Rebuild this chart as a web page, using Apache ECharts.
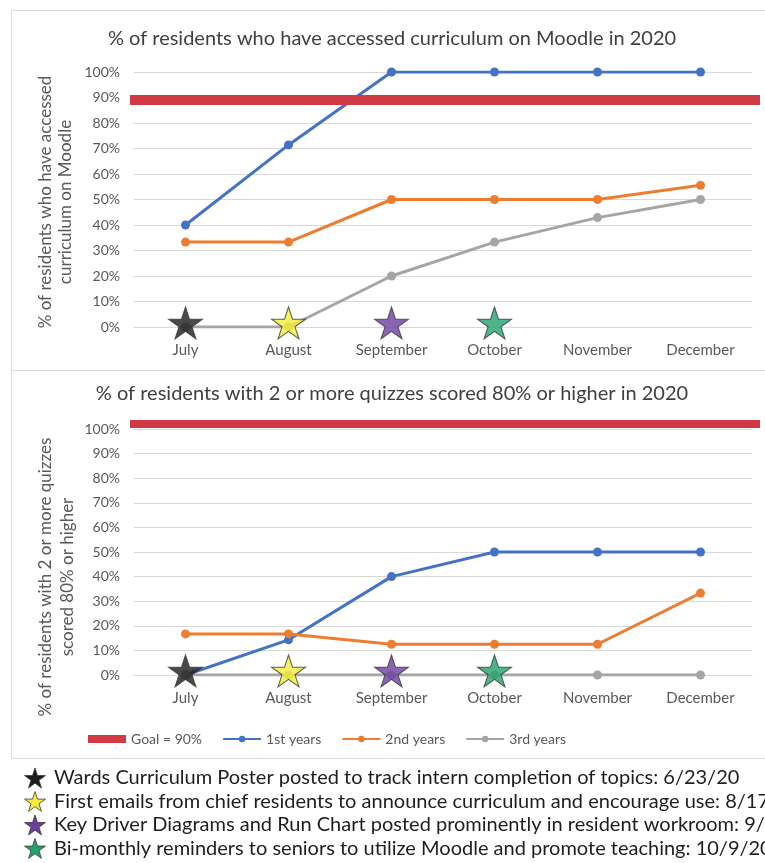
<!DOCTYPE html>
<html>
<head>
<meta charset="utf-8">
<script src="https://cdn.jsdelivr.net/npm/echarts@6/dist/echarts.min.js"></script>
<style>
  html, body { margin: 0; padding: 0; background: #ffffff; }
  #chart { width: 765px; height: 863px; }
</style>
</head>
<body>
<div id="chart"></div>
<script>
// Months on the x axis of both panels
const months = ['July', 'August', 'September', 'October', 'November', 'December'];

// Share of residents who have accessed the curriculum on Moodle
const accessed1st = [0.40, 0.714, 1.00, 1.00, 1.00, 1.00];
const accessed2nd = [0.333, 0.333, 0.50, 0.50, 0.50, 0.556];
const accessed3rd = [0.00, 0.00, 0.20, 0.333, 0.429, 0.50];

// Share of residents with 2+ quizzes scored 80% or higher
const quiz1st = [0.00, 0.143, 0.40, 0.50, 0.50, 0.50];
const quiz2nd = [0.167, 0.167, 0.125, 0.125, 0.125, 0.333];
const quiz3rd = [0.00, 0.00, 0.00, 0.00, 0.00, 0.00];

// Goal level
const goal = 0.9;

// Y axis ticks (0% .. 100%)
const yTickStep = 0.1;
const yTickMax = 1.0;

// Interventions, marked with stars on the month they started
const milestoneMonths = ['July', 'August', 'September', 'October'];
const milestoneLevel = [0, 0, 0, 0];
const milestoneNotes = [
  'Wards Curriculum Poster posted to track intern completion of topics: 6/23/20',
  'First emails from chief residents to announce curriculum and encourage use: 8/17/20',
  'Key Driver Diagrams and Run Chart posted prominently in resident workroom: 9/4/20',
  'Bi-monthly reminders to seniors to utilize Moodle and promote teaching: 10/9/20'
];

const FONT = 'Lato, "Open Sans", sans-serif';
const AXIS_TEXT = '#595959';
const GRID_LINE = '#d9d9d9';
const GOAL_RED = '#cf3a44';
const SERIES_COLORS = ['#4472c4', '#ed7d31', '#a5a5a5'];
const STAR_COLORS = ['#1b1b1b', '#f2ee3a', '#6b3fa0', '#22a36d'];

// Five-pointed star outline in a 100 x 91 box
const STAR_PTS = [[50, 0], [61.23, 34.55], [97.55, 34.55], [68.17, 55.9], [79.39, 90.45],
                  [50, 69.1], [20.61, 90.45], [31.83, 55.9], [2.45, 34.55], [38.77, 34.55]];
const STAR_D = 'M' + STAR_PTS.map(p => p[0] + ' ' + p[1]).join(' L') + ' Z';

function xAxisFor(gridIndex, visible) {
  return {
    type: 'category',
    gridIndex: gridIndex,
    data: months,
    boundaryGap: true,
    show: visible,
    axisLine: { lineStyle: { color: GRID_LINE } },
    axisTick: { show: false },
    axisLabel: { color: AXIS_TEXT, fontSize: 15, fontFamily: FONT, margin: 16 }
  };
}

function yAxisFor(gridIndex) {
  return {
    type: 'value',
    gridIndex: gridIndex,
    min: 0,
    max: yTickMax,
    interval: yTickStep,
    axisLine: { show: false },
    axisTick: { show: false },
    splitLine: { lineStyle: { color: GRID_LINE, width: 1 } },
    axisLabel: {
      color: AXIS_TEXT, fontSize: 14, fontFamily: FONT, margin: 14,
      formatter: v => Math.round(v * 100) + '%'
    }
  };
}

// Hidden secondary scale carrying the goal bar
function goalAxisFor(gridIndex, max) {
  return { type: 'value', gridIndex: gridIndex, show: false, min: 0, max: max, splitLine: { show: false } };
}

function trendSeries(name, data, color, axisIndex) {
  return {
    name: name,
    type: 'line',
    xAxisIndex: axisIndex,
    yAxisIndex: axisIndex,
    data: data,
    symbol: 'circle',
    symbolSize: 9,
    color: color,
    lineStyle: { width: 3, color: color },
    itemStyle: { color: color },
    z: 2
  };
}

function goalSeries(axisIndex, width) {
  return {
    name: 'Goal = 90%',
    type: 'line',
    xAxisIndex: axisIndex,
    yAxisIndex: axisIndex,
    data: [],
    color: GOAL_RED,
    z: 3,
    markLine: {
      silent: true,
      symbol: ['none', 'none'],
      label: { show: false },
      lineStyle: { color: GOAL_RED, width: width, type: 'solid', opacity: 1 },
      emphasis: { disabled: true },
      data: [{ yAxis: goal }]
    }
  };
}

function starSeries(axisIndex) {
  return {
    type: 'scatter',
    xAxisIndex: axisIndex,
    yAxisIndex: axisIndex,
    symbol: 'path://' + STAR_D,
    symbolSize: [34, 32],
    symbolOffset: [0, -4],
    z: 5,
    silent: true,
    data: milestoneMonths.map((m, i) => ({
      value: [m, milestoneLevel[i]],
      itemStyle: { color: STAR_COLORS[i], borderColor: '#383838', borderWidth: 1 }
    }))
  };
}

// Intervention key under the panels: star icon + description
const noteRows = milestoneNotes.map((t, i) => {
  const cy = 778 + i * 23.5;
  const sx = 22 / 100, sy = 20 / 91;
  return [
    {
      type: 'polygon',
      silent: true,
      shape: { points: STAR_PTS.map(p => [24 + p[0] * sx, cy - 10 + p[1] * sy]) },
      style: { fill: STAR_COLORS[i], stroke: '#383838', lineWidth: 0.8 }
    },
    {
      type: 'text',
      silent: true,
      x: 54,
      y: cy,
      style: { text: t, fill: '#1e1e1e', font: '20px ' + FONT, align: 'left', verticalAlign: 'middle' }
    }
  ];
}).flat();

const option = {
  animation: false,
  backgroundColor: '#ffffff',
  grid: [
    // plot areas
    { left: 134, right: 13, top: 72, height: 255 },
    { left: 134, right: 13, top: 429, height: 246 },
    // overlay areas for the goal bars (secondary scales)
    { left: 130, right: 5, top: 72, height: 255 },
    { left: 130, right: 5, top: 419, height: 256 }
  ],
  xAxis: [xAxisFor(0, true), xAxisFor(1, true), xAxisFor(2, false), xAxisFor(3, false)],
  yAxis: [yAxisFor(0), yAxisFor(1), goalAxisFor(2, 1.011), goalAxisFor(3, 0.918)],
  legend: {
    left: 83,
    top: 727,
    itemWidth: 38,
    itemHeight: 8,
    itemGap: 20,
    textStyle: { color: AXIS_TEXT, fontSize: 14, fontFamily: FONT },
    data: [
      { name: 'Goal = 90%', icon: 'rect' },
      '1st years', '2nd years', '3rd years'
    ]
  },
  series: [
    trendSeries('1st years', accessed1st, SERIES_COLORS[0], 0),
    trendSeries('2nd years', accessed2nd, SERIES_COLORS[1], 0),
    trendSeries('3rd years', accessed3rd, SERIES_COLORS[2], 0),
    goalSeries(2, 10),
    starSeries(0),
    trendSeries('1st years', quiz1st, SERIES_COLORS[0], 1),
    trendSeries('2nd years', quiz2nd, SERIES_COLORS[1], 1),
    trendSeries('3rd years', quiz3rd, SERIES_COLORS[2], 1),
    goalSeries(3, 8),
    starSeries(1)
  ],
  graphic: [
    { type: 'rect', silent: true, shape: { x: 11.5, y: 10.5, width: 800, height: 748 },
      style: { fill: 'none', stroke: '#dcdcdc', lineWidth: 1 } },
    { type: 'line', silent: true, shape: { x1: 11, y1: 370.5, x2: 765, y2: 370.5 },
      style: { stroke: '#dcdcdc', lineWidth: 1 } },
    { type: 'text', silent: true, x: 392, y: 39,
      style: { text: '% of residents who have accessed curriculum on Moodle in 2020',
               fill: '#404040', font: '20px ' + FONT, align: 'center', verticalAlign: 'middle' } },
    { type: 'text', silent: true, x: 392, y: 394,
      style: { text: '% of residents with 2 or more quizzes scored 80% or higher in 2020',
               fill: '#404040', font: '20px ' + FONT, align: 'center', verticalAlign: 'middle' } },
    { type: 'text', silent: true, x: 56, y: 202, rotation: Math.PI / 2,
      style: { text: '% of residents who have accessed\ncurriculum on Moodle',
               fill: AXIS_TEXT, font: '17px ' + FONT, lineHeight: 20, align: 'center', verticalAlign: 'middle' } },
    { type: 'text', silent: true, x: 57, y: 577, rotation: Math.PI / 2,
      style: { text: '% of residents with 2 or more quizzes\nscored 80% or higher',
               fill: AXIS_TEXT, font: '17px ' + FONT, lineHeight: 22, align: 'center', verticalAlign: 'middle' } }
  ].concat(noteRows)
};

const chart = echarts.init(document.getElementById('chart'), null, { renderer: 'canvas' });
chart.setOption(option);
</script>
</body>
</html>
